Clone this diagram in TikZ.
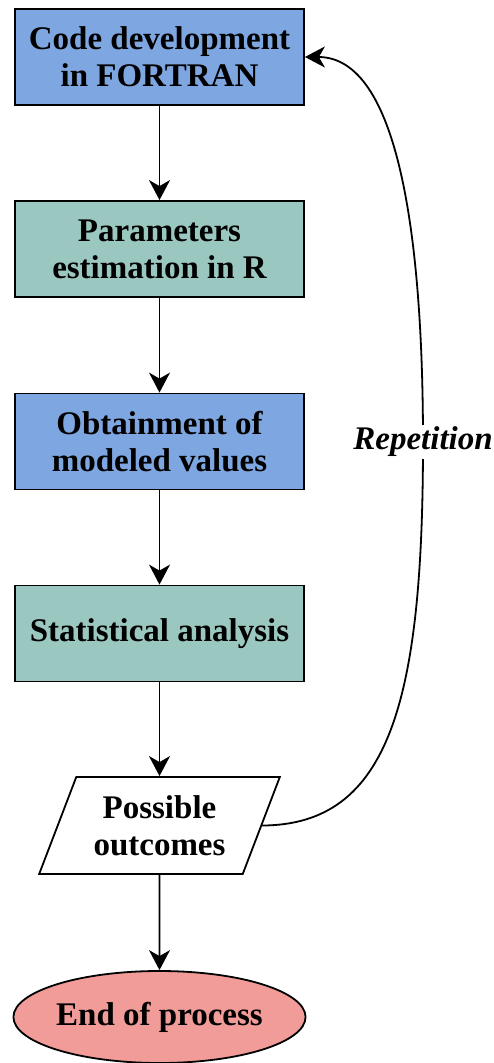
\documentclass[tikz,border=0pt]{standalone}
\usepackage{fontspec}
\setmainfont{Liberation Serif}
\usetikzlibrary{shapes.geometric,arrows.meta}
\definecolor{boxblue}{HTML}{7EA6E0}
\definecolor{boxgreen}{HTML}{9AC7BF}
\definecolor{endred}{HTML}{F19C99}
\begin{document}
\begin{tikzpicture}[x=1pt,y=-1pt,
  stepbox/.style={draw,line width=1.8pt,minimum width=289pt,minimum height=96pt,
    inner sep=0pt,align=center,font=\bfseries\fontsize{33}{37}\selectfont},
  flow/.style={line width=1.8pt,-{Stealth[length=20pt,width=21pt,inset=6pt]}}]
  \useasboundingbox (0,0) rectangle (494,1063);
  % main steps
  \node[stepbox,fill=boxblue] (code) at (159.5,57) {Code development\\in FORTRAN};
  \node[stepbox,fill=boxgreen] (param) at (159.5,249) {Parameters\\estimation in R};
  \node[stepbox,fill=boxblue] (model) at (159.5,441.5) {Obtainment of\\modeled values};
  \node[stepbox,fill=boxgreen] (stat) at (159.5,633.5) {Statistical analysis};
  \node[stepbox,trapezium,trapezium left angle=64,trapezium right angle=116,
    trapezium stretches=true,minimum width=241pt,minimum height=97pt,fill=white]
    (outc) at (159.5,825.5) {Possible\\outcomes};
  \node[stepbox,ellipse,fill=endred,minimum height=92pt] (end) at (159.5,1017) {End of process};
  \draw[flow] (code) -- (param);
  \draw[flow] (param) -- (model);
  \draw[flow] (model) -- (stat);
  \draw[flow] (stat) -- (outc);
  \draw[flow] (outc) -- (end);
  % loop back
  \draw[flow] (outc.east) .. controls (390,825) and (423,700) .. (423,442)
    node[fill=white,inner sep=2pt,font=\bfseries\itshape\fontsize{33}{37}\selectfont] (rep) {Repetition}
    .. controls (423,235) and (398,57) .. (code.east);
\end{tikzpicture}
\end{document}
